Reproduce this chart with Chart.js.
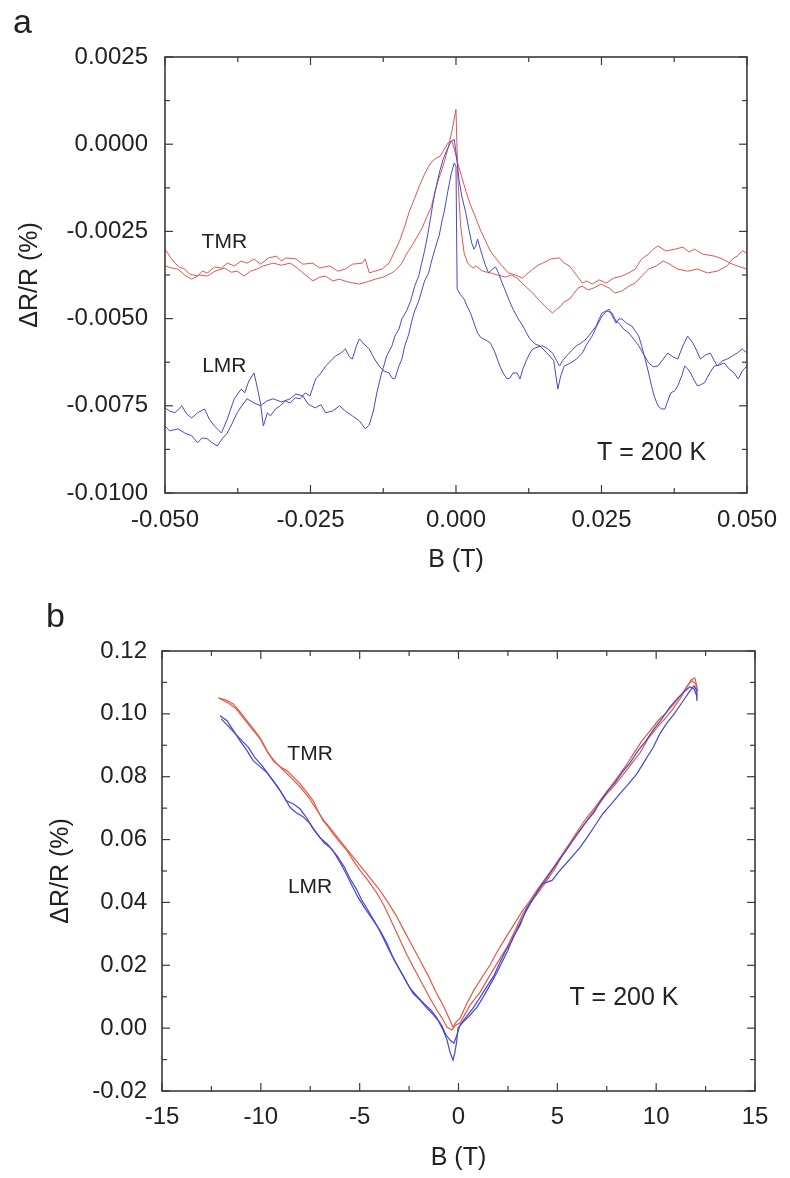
<!DOCTYPE html>
<html>
<head>
<meta charset="utf-8">
<script src="https://cdn.jsdelivr.net/npm/chart.js@4.4.1/dist/chart.umd.min.js"></script>
<style>
  body { margin: 0; background: #fff; width: 790px; height: 1178px; position: relative; overflow: hidden; font-family: "Liberation Sans", Arial, sans-serif; }
  canvas { position: absolute; left: 0; }
  #chartA { top: 0; }
  #chartB { top: 580px; }
  .panel { position: absolute; font-size: 34px; line-height: 1; color: #222; }
</style>
</head>
<body>
<canvas id="chartA" width="790" height="580"></canvas>
<canvas id="chartB" width="790" height="598"></canvas>
<div class="panel" style="left:13px;top:4px">a</div>
<div class="panel" style="left:46px;top:598px">b</div>
<script>
// Panel a: low field sweep, B (T) vs dR/R (%)
const bRangeA = [-0.05, 0.05];
const bStepA = 0.025;
const drRangeA = [-0.0100, 0.0025];
const drStepA = 0.0025;

const tmrA1 = [[-0.0500,-0.00301],[-0.0492,-0.00321],[-0.0483,-0.00341],[-0.0475,-0.00352],[-0.0466,-0.00358],[-0.0458,-0.00372],[-0.0444,-0.00378],[-0.0436,-0.00364],[-0.0427,-0.00369],[-0.0415,-0.00352],[-0.0403,-0.00355],[-0.0393,-0.00341],[-0.0381,-0.00349],[-0.0369,-0.00335],[-0.0359,-0.00341],[-0.0347,-0.00329],[-0.0336,-0.00344],[-0.0322,-0.00326],[-0.0308,-0.00321],[-0.0300,-0.00335],[-0.0292,-0.00326],[-0.0275,-0.00329],[-0.0263,-0.00344],[-0.0246,-0.00341],[-0.0234,-0.00355],[-0.0217,-0.00349],[-0.0203,-0.00364],[-0.0190,-0.00358],[-0.0178,-0.00344],[-0.0161,-0.00341],[-0.0156,-0.00329],[-0.0149,-0.00369],[-0.0139,-0.00364],[-0.0127,-0.00358],[-0.0115,-0.00341],[-0.0105,-0.00306],[-0.0097,-0.00278],[-0.0088,-0.00235],[-0.0080,-0.00192],[-0.0071,-0.00155],[-0.0063,-0.00120],[-0.0054,-0.00086],[-0.0047,-0.00063],[-0.0041,-0.00049],[-0.0034,-0.00040],[-0.0027,-0.00034],[-0.0022,-0.00020],[-0.0014,0.00003],[-0.0007,0.00009],[-0.0002,-0.00020],[0.0003,-0.00054],[0.0010,-0.00094],[0.0017,-0.00135],[0.0025,-0.00175],[0.0034,-0.00212],[0.0042,-0.00246],[0.0051,-0.00278],[0.0059,-0.00306],[0.0068,-0.00326],[0.0078,-0.00347],[0.0090,-0.00369],[0.0102,-0.00375],[0.0114,-0.00384],[0.0124,-0.00369],[0.0132,-0.00358],[0.0141,-0.00347],[0.0149,-0.00341],[0.0163,-0.00329],[0.0178,-0.00326],[0.0186,-0.00341],[0.0195,-0.00349],[0.0207,-0.00375],[0.0217,-0.00398],[0.0225,-0.00392],[0.0234,-0.00401],[0.0246,-0.00389],[0.0258,-0.00398],[0.0271,-0.00384],[0.0285,-0.00378],[0.0297,-0.00369],[0.0308,-0.00358],[0.0319,-0.00329],[0.0331,-0.00315],[0.0339,-0.00301],[0.0347,-0.00292],[0.0361,-0.00306],[0.0376,-0.00301],[0.0390,-0.00295],[0.0400,-0.00309],[0.0410,-0.00301],[0.0424,-0.00315],[0.0444,-0.00321],[0.0458,-0.00329],[0.0471,-0.00341],[0.0483,-0.00349],[0.0500,-0.00358]];

const tmrA2 = [[-0.0500,-0.00349],[-0.0488,-0.00355],[-0.0478,-0.00358],[-0.0466,-0.00375],[-0.0454,-0.00387],[-0.0441,-0.00375],[-0.0427,-0.00378],[-0.0414,-0.00364],[-0.0398,-0.00355],[-0.0386,-0.00367],[-0.0376,-0.00364],[-0.0364,-0.00378],[-0.0353,-0.00364],[-0.0342,-0.00358],[-0.0331,-0.00349],[-0.0314,-0.00341],[-0.0300,-0.00347],[-0.0285,-0.00341],[-0.0275,-0.00352],[-0.0263,-0.00369],[-0.0246,-0.00392],[-0.0234,-0.00381],[-0.0224,-0.00378],[-0.0212,-0.00392],[-0.0200,-0.00387],[-0.0186,-0.00395],[-0.0166,-0.00401],[-0.0153,-0.00395],[-0.0139,-0.00387],[-0.0125,-0.00381],[-0.0110,-0.00369],[-0.0102,-0.00358],[-0.0093,-0.00341],[-0.0085,-0.00315],[-0.0076,-0.00292],[-0.0068,-0.00269],[-0.0059,-0.00243],[-0.0051,-0.00212],[-0.0042,-0.00178],[-0.0036,-0.00135],[-0.0031,-0.00106],[-0.0025,-0.00077],[-0.0020,-0.00049],[-0.0014,-0.00014],[-0.0007,0.00037],[0.0000,0.00100],[0.0003,-0.00092],[0.0008,-0.00235],[0.0014,-0.00312],[0.0020,-0.00341],[0.0029,-0.00355],[0.0034,-0.00349],[0.0046,-0.00364],[0.0059,-0.00369],[0.0071,-0.00375],[0.0085,-0.00381],[0.0095,-0.00375],[0.0105,-0.00384],[0.0119,-0.00407],[0.0132,-0.00427],[0.0141,-0.00444],[0.0149,-0.00458],[0.0158,-0.00473],[0.0166,-0.00484],[0.0173,-0.00473],[0.0180,-0.00464],[0.0186,-0.00452],[0.0195,-0.00444],[0.0203,-0.00427],[0.0210,-0.00412],[0.0217,-0.00407],[0.0227,-0.00418],[0.0237,-0.00412],[0.0249,-0.00401],[0.0263,-0.00412],[0.0273,-0.00427],[0.0285,-0.00421],[0.0297,-0.00407],[0.0308,-0.00398],[0.0319,-0.00378],[0.0331,-0.00358],[0.0344,-0.00349],[0.0356,-0.00335],[0.0364,-0.00341],[0.0381,-0.00358],[0.0398,-0.00364],[0.0415,-0.00358],[0.0432,-0.00369],[0.0449,-0.00364],[0.0466,-0.00349],[0.0475,-0.00329],[0.0483,-0.00321],[0.0492,-0.00306],[0.0500,-0.00312]];

const lmrA1 = [[-0.0500,-0.00808],[-0.0492,-0.00822],[-0.0478,-0.00816],[-0.0466,-0.00828],[-0.0454,-0.00836],[-0.0444,-0.00856],[-0.0436,-0.00842],[-0.0427,-0.00845],[-0.0419,-0.00856],[-0.0410,-0.00865],[-0.0402,-0.00845],[-0.0393,-0.00828],[-0.0385,-0.00802],[-0.0376,-0.00770],[-0.0368,-0.00750],[-0.0359,-0.00730],[-0.0347,-0.00742],[-0.0336,-0.00750],[-0.0325,-0.00736],[-0.0314,-0.00730],[-0.0300,-0.00739],[-0.0285,-0.00730],[-0.0275,-0.00716],[-0.0263,-0.00722],[-0.0254,-0.00745],[-0.0242,-0.00756],[-0.0232,-0.00747],[-0.0224,-0.00770],[-0.0212,-0.00765],[-0.0200,-0.00750],[-0.0190,-0.00765],[-0.0178,-0.00779],[-0.0166,-0.00793],[-0.0156,-0.00816],[-0.0149,-0.00805],[-0.0142,-0.00765],[-0.0136,-0.00713],[-0.0129,-0.00664],[-0.0119,-0.00607],[-0.0110,-0.00578],[-0.0105,-0.00550],[-0.0098,-0.00530],[-0.0093,-0.00501],[-0.0085,-0.00478],[-0.0078,-0.00450],[-0.0071,-0.00407],[-0.0064,-0.00378],[-0.0059,-0.00341],[-0.0054,-0.00306],[-0.0049,-0.00263],[-0.0044,-0.00215],[-0.0039,-0.00163],[-0.0032,-0.00106],[-0.0027,-0.00072],[-0.0022,-0.00043],[-0.0015,-0.00014],[-0.0008,0.00009],[-0.0003,0.00014],[0.0002,-0.00049],[0.0005,-0.00100],[0.0010,-0.00149],[0.0017,-0.00198],[0.0022,-0.00243],[0.0027,-0.00283],[0.0031,-0.00301],[0.0034,-0.00292],[0.0037,-0.00272],[0.0042,-0.00301],[0.0046,-0.00324],[0.0051,-0.00349],[0.0056,-0.00369],[0.0063,-0.00358],[0.0068,-0.00352],[0.0073,-0.00369],[0.0078,-0.00392],[0.0085,-0.00421],[0.0092,-0.00450],[0.0098,-0.00473],[0.0107,-0.00501],[0.0115,-0.00521],[0.0122,-0.00544],[0.0127,-0.00558],[0.0136,-0.00573],[0.0144,-0.00578],[0.0153,-0.00593],[0.0161,-0.00607],[0.0168,-0.00621],[0.0175,-0.00702],[0.0180,-0.00664],[0.0186,-0.00636],[0.0197,-0.00627],[0.0207,-0.00616],[0.0217,-0.00599],[0.0225,-0.00573],[0.0234,-0.00550],[0.0242,-0.00521],[0.0251,-0.00493],[0.0259,-0.00478],[0.0268,-0.00484],[0.0275,-0.00507],[0.0280,-0.00513],[0.0288,-0.00530],[0.0297,-0.00541],[0.0305,-0.00558],[0.0314,-0.00578],[0.0322,-0.00601],[0.0331,-0.00627],[0.0339,-0.00638],[0.0347,-0.00636],[0.0356,-0.00616],[0.0364,-0.00599],[0.0373,-0.00610],[0.0381,-0.00616],[0.0390,-0.00578],[0.0398,-0.00550],[0.0407,-0.00570],[0.0414,-0.00593],[0.0420,-0.00616],[0.0429,-0.00604],[0.0437,-0.00599],[0.0444,-0.00621],[0.0449,-0.00636],[0.0458,-0.00621],[0.0466,-0.00616],[0.0475,-0.00607],[0.0483,-0.00599],[0.0492,-0.00587],[0.0500,-0.00599]];

const lmrA2 = [[-0.0500,-0.00756],[-0.0492,-0.00765],[-0.0483,-0.00770],[-0.0471,-0.00750],[-0.0463,-0.00773],[-0.0454,-0.00785],[-0.0444,-0.00770],[-0.0432,-0.00759],[-0.0424,-0.00788],[-0.0415,-0.00808],[-0.0403,-0.00828],[-0.0393,-0.00788],[-0.0381,-0.00730],[-0.0369,-0.00702],[-0.0363,-0.00713],[-0.0356,-0.00679],[-0.0347,-0.00656],[-0.0342,-0.00693],[-0.0336,-0.00742],[-0.0331,-0.00808],[-0.0324,-0.00770],[-0.0319,-0.00779],[-0.0310,-0.00759],[-0.0302,-0.00750],[-0.0293,-0.00736],[-0.0285,-0.00742],[-0.0276,-0.00727],[-0.0268,-0.00730],[-0.0259,-0.00713],[-0.0251,-0.00722],[-0.0241,-0.00673],[-0.0232,-0.00656],[-0.0224,-0.00636],[-0.0215,-0.00621],[-0.0207,-0.00607],[-0.0198,-0.00599],[-0.0190,-0.00587],[-0.0183,-0.00610],[-0.0178,-0.00616],[-0.0171,-0.00578],[-0.0166,-0.00558],[-0.0158,-0.00573],[-0.0149,-0.00587],[-0.0141,-0.00613],[-0.0132,-0.00636],[-0.0124,-0.00650],[-0.0115,-0.00656],[-0.0110,-0.00670],[-0.0105,-0.00673],[-0.0098,-0.00636],[-0.0093,-0.00616],[-0.0088,-0.00578],[-0.0081,-0.00544],[-0.0076,-0.00507],[-0.0071,-0.00478],[-0.0064,-0.00450],[-0.0059,-0.00421],[-0.0054,-0.00392],[-0.0047,-0.00369],[-0.0042,-0.00335],[-0.0037,-0.00306],[-0.0032,-0.00278],[-0.0029,-0.00263],[-0.0024,-0.00220],[-0.0020,-0.00192],[-0.0017,-0.00163],[-0.0014,-0.00135],[-0.0008,-0.00083],[-0.0003,-0.00054],[0.0000,-0.00063],[0.0002,-0.00415],[0.0007,-0.00430],[0.0014,-0.00444],[0.0019,-0.00464],[0.0025,-0.00484],[0.0031,-0.00513],[0.0037,-0.00541],[0.0042,-0.00553],[0.0047,-0.00558],[0.0054,-0.00564],[0.0059,-0.00570],[0.0066,-0.00593],[0.0071,-0.00616],[0.0076,-0.00638],[0.0081,-0.00656],[0.0088,-0.00673],[0.0093,-0.00670],[0.0098,-0.00656],[0.0105,-0.00656],[0.0110,-0.00673],[0.0115,-0.00644],[0.0122,-0.00616],[0.0127,-0.00599],[0.0132,-0.00587],[0.0141,-0.00581],[0.0149,-0.00578],[0.0158,-0.00587],[0.0166,-0.00599],[0.0173,-0.00621],[0.0178,-0.00636],[0.0183,-0.00621],[0.0190,-0.00607],[0.0198,-0.00593],[0.0207,-0.00578],[0.0215,-0.00570],[0.0224,-0.00558],[0.0232,-0.00541],[0.0241,-0.00521],[0.0246,-0.00501],[0.0251,-0.00484],[0.0258,-0.00478],[0.0263,-0.00473],[0.0268,-0.00490],[0.0275,-0.00513],[0.0280,-0.00501],[0.0285,-0.00501],[0.0293,-0.00513],[0.0302,-0.00521],[0.0308,-0.00536],[0.0314,-0.00550],[0.0319,-0.00578],[0.0325,-0.00616],[0.0331,-0.00656],[0.0336,-0.00693],[0.0341,-0.00724],[0.0347,-0.00750],[0.0353,-0.00759],[0.0359,-0.00759],[0.0364,-0.00736],[0.0369,-0.00713],[0.0376,-0.00707],[0.0381,-0.00693],[0.0388,-0.00664],[0.0393,-0.00636],[0.0398,-0.00644],[0.0403,-0.00656],[0.0410,-0.00679],[0.0415,-0.00693],[0.0420,-0.00690],[0.0427,-0.00684],[0.0436,-0.00656],[0.0444,-0.00636],[0.0453,-0.00633],[0.0461,-0.00627],[0.0469,-0.00644],[0.0478,-0.00656],[0.0485,-0.00673],[0.0492,-0.00650],[0.0500,-0.00636]];

// Panel b: high field sweep
const bRangeB = [-15, 15];
const bStepB = 5;
const drRangeB = [-0.02, 0.12];
const drStepB = 0.02;

const tmrB1 = [[-12.16,0.1051],[-11.76,0.1044],[-11.41,0.1032],[-11.05,0.1006],[-10.70,0.0978],[-10.34,0.0949],[-10.04,0.0924],[-9.69,0.0883],[-9.38,0.0851],[-9.03,0.0832],[-8.67,0.0819],[-8.32,0.0797],[-8.02,0.0778],[-7.66,0.0749],[-7.36,0.0724],[-7.11,0.0692],[-6.85,0.0660],[-6.60,0.0641],[-6.35,0.0619],[-5.99,0.0590],[-5.64,0.0565],[-5.29,0.0530],[-4.98,0.0502],[-4.58,0.0470],[-4.12,0.0429],[-3.77,0.0390],[-3.46,0.0349],[-3.06,0.0295],[-2.60,0.0232],[-2.20,0.0184],[-1.80,0.0137],[-1.44,0.0095],[-1.09,0.0057],[-0.83,0.0032],[-0.58,0.0003],[-0.33,-0.0006],[-0.13,0.0010],[0.08,0.0016],[0.58,0.0073],[1.09,0.0114],[1.44,0.0152],[1.95,0.0206],[2.45,0.0257],[2.86,0.0311],[3.26,0.0365],[3.72,0.0406],[4.12,0.0438],[4.53,0.0476],[4.88,0.0508],[5.24,0.0549],[5.64,0.0587],[6.04,0.0622],[6.50,0.0660],[7.00,0.0705],[7.51,0.0746],[7.87,0.0771],[8.17,0.0794],[8.68,0.0835],[9.18,0.0876],[9.59,0.0921],[10.04,0.0956],[10.44,0.0984],[10.85,0.1016],[11.21,0.1048],[11.51,0.1079],[11.76,0.1108],[11.96,0.1114],[12.11,0.1073]];

const tmrB2 = [[-12.06,0.1048],[-11.66,0.1035],[-11.25,0.1016],[-10.85,0.0984],[-10.45,0.0952],[-10.04,0.0921],[-9.64,0.0876],[-9.23,0.0844],[-8.83,0.0819],[-8.42,0.0794],[-8.02,0.0768],[-7.61,0.0737],[-7.21,0.0698],[-6.80,0.0660],[-6.40,0.0629],[-5.99,0.0597],[-5.59,0.0565],[-5.18,0.0533],[-4.78,0.0502],[-4.38,0.0470],[-3.97,0.0438],[-3.57,0.0400],[-3.16,0.0359],[-2.76,0.0311],[-2.35,0.0263],[-1.95,0.0216],[-1.54,0.0168],[-1.14,0.0114],[-0.78,0.0073],[-0.48,0.0032],[-0.28,0.0003],[-0.13,0.0019],[0.08,0.0032],[0.38,0.0073],[0.78,0.0121],[1.19,0.0162],[1.59,0.0200],[2.00,0.0248],[2.40,0.0289],[2.81,0.0330],[3.21,0.0371],[3.62,0.0406],[4.02,0.0444],[4.43,0.0479],[4.83,0.0514],[5.24,0.0552],[5.64,0.0590],[6.04,0.0629],[6.45,0.0667],[6.85,0.0698],[7.26,0.0733],[7.66,0.0765],[8.07,0.0800],[8.47,0.0835],[8.88,0.0876],[9.28,0.0914],[9.69,0.0946],[10.09,0.0978],[10.50,0.1003],[10.90,0.1032],[11.30,0.1063],[11.61,0.1092],[11.81,0.1105],[12.01,0.1095],[12.06,0.1048]];

const lmrB1 = [[-12.06,0.0994],[-11.71,0.0978],[-11.41,0.0949],[-11.05,0.0914],[-10.70,0.0883],[-10.39,0.0851],[-10.04,0.0832],[-9.69,0.0813],[-9.38,0.0787],[-9.03,0.0756],[-8.73,0.0724],[-8.37,0.0714],[-8.02,0.0698],[-7.66,0.0667],[-7.36,0.0635],[-7.01,0.0606],[-6.65,0.0587],[-6.35,0.0565],[-5.99,0.0527],[-5.69,0.0492],[-5.39,0.0454],[-5.08,0.0416],[-4.73,0.0381],[-4.38,0.0349],[-3.97,0.0311],[-3.62,0.0270],[-3.31,0.0225],[-2.96,0.0184],[-2.60,0.0143],[-2.30,0.0111],[-1.95,0.0089],[-1.59,0.0063],[-1.29,0.0044],[-1.04,0.0025],[-0.78,-0.0006],[-0.58,-0.0038],[-0.43,-0.0076],[-0.28,-0.0102],[-0.18,-0.0076],[-0.08,-0.0038],[-0.03,0.0000],[0.23,0.0019],[0.58,0.0041],[0.94,0.0067],[1.24,0.0098],[1.59,0.0137],[1.95,0.0178],[2.25,0.0216],[2.50,0.0248],[2.76,0.0289],[3.11,0.0327],[3.46,0.0384],[3.87,0.0422],[4.27,0.0460],[4.73,0.0470],[5.13,0.0502],[5.49,0.0527],[5.89,0.0556],[6.15,0.0575],[6.50,0.0606],[6.90,0.0644],[7.31,0.0683],[7.66,0.0708],[8.17,0.0746],[8.57,0.0775],[9.03,0.0810],[9.43,0.0851],[9.84,0.0892],[10.19,0.0937],[10.55,0.0971],[10.95,0.1003],[11.36,0.1041],[11.71,0.1073],[11.91,0.1089],[12.06,0.1073],[12.06,0.1041]];

const lmrB2 = [[-12.01,0.0984],[-11.66,0.0962],[-11.30,0.0937],[-10.95,0.0914],[-10.65,0.0895],[-10.29,0.0860],[-9.94,0.0835],[-9.53,0.0800],[-9.18,0.0771],[-8.83,0.0737],[-8.52,0.0702],[-8.22,0.0686],[-7.87,0.0673],[-7.51,0.0651],[-7.16,0.0619],[-6.80,0.0590],[-6.50,0.0575],[-6.15,0.0549],[-5.79,0.0514],[-5.49,0.0476],[-5.18,0.0444],[-4.88,0.0406],[-4.58,0.0375],[-4.22,0.0337],[-3.87,0.0295],[-3.51,0.0248],[-3.16,0.0206],[-2.81,0.0168],[-2.45,0.0127],[-2.10,0.0102],[-1.75,0.0079],[-1.39,0.0057],[-1.09,0.0032],[-0.83,0.0006],[-0.63,-0.0022],[-0.43,-0.0038],[-0.23,-0.0048],[-0.08,-0.0022],[0.08,0.0010],[0.38,0.0035],[0.73,0.0063],[1.09,0.0098],[1.44,0.0133],[1.80,0.0168],[2.10,0.0210],[2.40,0.0248],[2.71,0.0279],[3.01,0.0321],[3.31,0.0359],[3.67,0.0400],[4.02,0.0438],[4.38,0.0470],[4.73,0.0502],[5.08,0.0533],[5.44,0.0565],[5.79,0.0597],[6.15,0.0629],[6.50,0.0660],[6.85,0.0686],[7.21,0.0724],[7.56,0.0756],[7.92,0.0781],[8.27,0.0813],[8.68,0.0844],[9.08,0.0883],[9.48,0.0914],[9.89,0.0952],[10.29,0.0984],[10.70,0.1022],[11.10,0.1051],[11.46,0.1073],[11.71,0.1086],[11.91,0.1079],[12.06,0.1057]];

const FONT = '"Liberation Sans", Arial, sans-serif';
const INK = '#222';

// tick text without a "-0" artefact from float steps
const fmt = (v, d) => (Math.abs(v) < 1e-9 ? 0 : v).toFixed(d);

// boxed frame with inward major and minor ticks on all four sides
const frame = {
  id: 'frame',
  afterDraw(chart) {
    const {ctx, chartArea: a, scales: {x, y}} = chart;
    const vals = s => s.ticks.map(t => t.value);
    const mids = v => v.slice(1).map((t, i) => (t + v[i]) / 2);
    const seg = (x1, y1, x2, y2) => { ctx.beginPath(); ctx.moveTo(x1, y1); ctx.lineTo(x2, y2); ctx.stroke(); };
    ctx.save();
    ctx.strokeStyle = '#3a3a3a';
    ctx.lineWidth = 1.2;
    const xMarks = (v, len) => v.forEach(t => {
      const p = x.getPixelForValue(t);
      seg(p, a.bottom, p, a.bottom - len);
      seg(p, a.top, p, a.top + len);
    });
    const yMarks = (v, len) => v.forEach(t => {
      const p = y.getPixelForValue(t);
      seg(a.left, p, a.left + len, p);
      seg(a.right, p, a.right - len, p);
    });
    xMarks(vals(x), 8); xMarks(mids(vals(x)), 5);
    yMarks(vals(y), 8); yMarks(mids(vals(y)), 5);
    ctx.lineWidth = 1.6;
    ctx.strokeRect(a.left, a.top, a.right - a.left, a.bottom - a.top);
    ctx.restore();
  }
};

// text labels placed at data coordinates
const notes = {
  id: 'notes',
  afterDatasetsDraw(chart, args, opts) {
    const {ctx, scales: {x, y}} = chart;
    ctx.save();
    ctx.fillStyle = INK;
    ctx.textAlign = 'center';
    ctx.textBaseline = 'middle';
    (opts.items || []).forEach(n => {
      ctx.font = n.size + 'px ' + FONT;
      ctx.fillText(n.text, x.getPixelForValue(n.x), y.getPixelForValue(n.y));
    });
    ctx.restore();
  }
};

function makePanel(id, sets, o) {
  return new Chart(document.getElementById(id), {
    type: 'scatter',
    data: {
      datasets: sets.map(s => ({
        data: s.data.map(([x, y]) => ({x, y})),
        showLine: true,
        borderColor: s.color,
        borderWidth: o.lineWidth,
        pointRadius: 0,
        pointHoverRadius: 0,
        tension: 0,
        fill: false
      }))
    },
    options: {
      responsive: false,
      animation: false,
      devicePixelRatio: 1,
      layout: { padding: { top: o.padTop, right: 35, left: 0, bottom: 0 } },
      plugins: {
        legend: { display: false },
        tooltip: { enabled: false },
        notes: { items: o.notes }
      },
      scales: {
        x: {
          type: 'linear',
          min: o.xRange[0], max: o.xRange[1],
          grid: { display: false, drawTicks: false },
          border: { display: false },
          ticks: {
            stepSize: o.xStep, padding: o.xPad, autoSkip: false, maxRotation: 0,
            color: INK, font: { family: FONT, size: 24 },
            callback: v => fmt(v, o.xDec)
          },
          title: { display: true, text: 'B (T)', color: INK, font: { family: FONT, size: 25 }, padding: { top: 0, bottom: 5 } },
          afterFit: s => { s.height = o.xHeight; }
        },
        y: {
          type: 'linear',
          min: o.yRange[0], max: o.yRange[1],
          grid: { display: false, drawTicks: false },
          border: { display: false },
          ticks: {
            stepSize: o.yStep, padding: o.yPad, autoSkip: false,
            color: INK, font: { family: FONT, size: 24 },
            callback: v => fmt(v, o.yDec)
          },
          title: { display: true, text: 'ΔR/R (%)', color: INK, font: { family: FONT, size: 25 }, padding: { top: o.yTitlePad, bottom: 0 } },
          afterFit: s => { s.width = o.yWidth; }
        }
      }
    },
    plugins: [frame, notes]
  });
}

makePanel('chartA', [
  { data: lmrA1, color: 'rgb(72,72,205)' },
  { data: lmrA2, color: 'rgb(72,72,205)' },
  { data: tmrA1, color: 'rgb(228,84,84)' },
  { data: tmrA2, color: 'rgb(228,84,84)' }
], {
  xRange: bRangeA, xStep: bStepA, xDec: 3,
  yRange: drRangeA, yStep: drStepA, yDec: 4,
  padTop: 57, xHeight: 87, yWidth: 165,
  xPad: 13, yPad: 17, yTitlePad: 15, lineWidth: 1,
  notes: [
    { text: 'TMR', x: -0.0398, y: -0.00281, size: 21 },
    { text: 'LMR', x: -0.0398, y: -0.00636, size: 21 },
    { text: 'T = 200 K', x: 0.0336, y: -0.00885, size: 25 }
  ]
});

makePanel('chartB', [
  { data: lmrB1, color: 'rgb(70,70,215)' },
  { data: lmrB2, color: 'rgb(70,70,215)' },
  { data: tmrB1, color: 'rgb(230,88,64)' },
  { data: tmrB2, color: 'rgb(230,88,64)' }
], {
  xRange: bRangeB, xStep: bStepB, xDec: 0,
  yRange: drRangeB, yStep: drStepB, yDec: 2,
  padTop: 71, xHeight: 87, yWidth: 162,
  xPad: 12, yPad: 15, yTitlePad: 46, lineWidth: 1.2,
  notes: [
    { text: 'TMR', x: -7.51, y: 0.0873, size: 21 },
    { text: 'LMR', x: -7.51, y: 0.0448, size: 21 },
    { text: 'T = 200 K', x: 8.37, y: 0.0095, size: 25 }
  ]
});
</script>
</body>
</html>
